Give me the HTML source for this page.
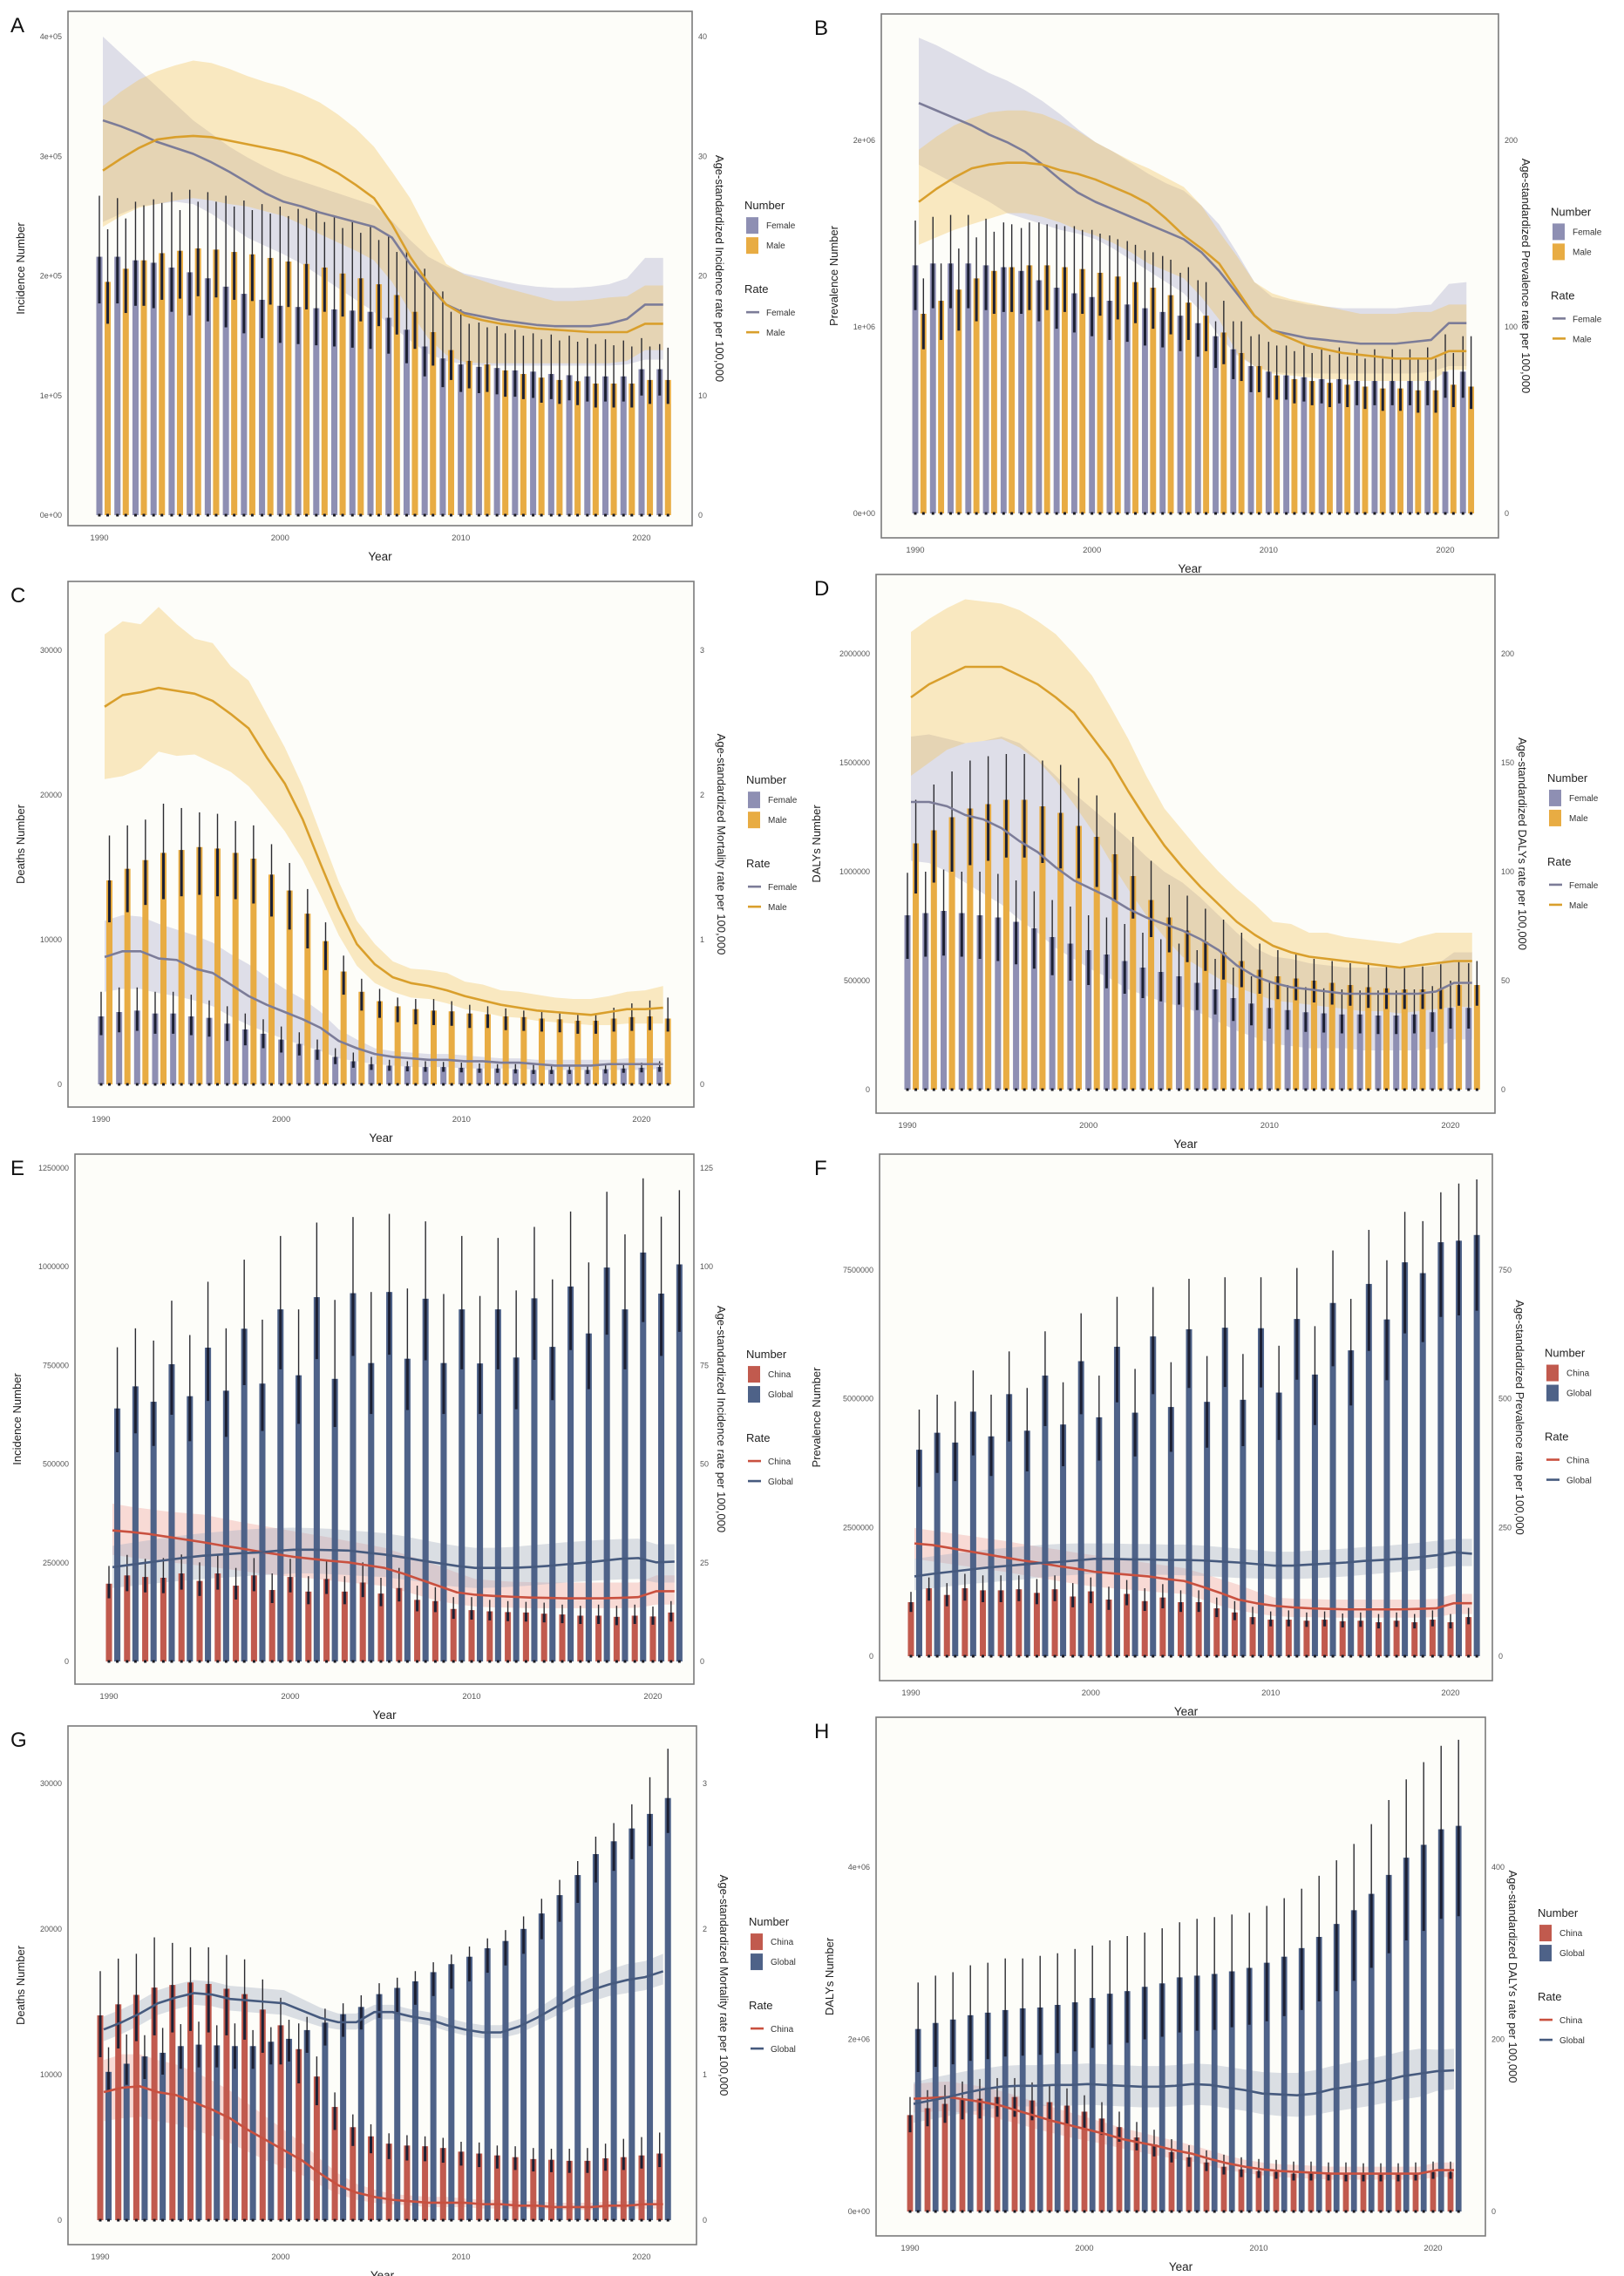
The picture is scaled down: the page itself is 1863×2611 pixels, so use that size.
<!DOCTYPE html>
<html><head><meta charset="utf-8"><title>Burden panels A-H</title>
<style>
html,body{margin:0;padding:0;background:#fff;}
svg{display:block;font-family:"Liberation Sans",Arial,sans-serif;}
</style></head>
<body>
<svg id="fig" width="1863" height="2611" viewBox="0 0 1863 2611" xmlns="http://www.w3.org/2000/svg"></svg>
<script>
const years = [1990,1991,1992,1993,1994,1995,1996,1997,1998,1999,2000,2001,2002,2003,2004,2005,2006,2007,2008,2009,2010,2011,2012,2013,2014,2015,2016,2017,2018,2019,2020,2021];
const xTickYears = [1990,2000,2010,2020];

// Panel A (counts in thousands, rate per 100,000)
const aFemaleNum = [216,216,213,211,207,203,198,191,185,180,175,174,173,172,171,170,165,155,141,131,126,124,123,121,120,118,117,116,116,116,122,122];
const aFemaleHi = [267,265,262,264,270,272,270,267,263,260,258,256,254,250,246,242,233,221,206,187,172,161,158,155,152,151,150,148,147,146,148,143];
const aFemaleLo = [177,177,175,173,170,167,162,157,152,148,144,143,142,141,140,139,135,127,116,107,103,102,101,99,98,97,96,95,95,95,100,100];
const aMaleNum = [195,206,213,219,221,223,222,220,218,215,212,210,207,202,198,193,184,170,153,138,129,126,121,118,115,113,112,110,110,110,113,113];
const aMaleHi = [239,248,259,261,255,262,262,258,255,252,250,248,245,240,236,230,220,206,188,170,160,157,152,150,147,146,145,143,142,141,141,140];
const aMaleLo = [160,169,175,180,181,183,182,180,179,176,174,172,170,166,162,158,151,139,125,113,106,103,99,97,94,93,92,90,90,90,93,93];
const aFemaleRate = [33.0,32.5,31.9,31.2,30.7,30.2,29.5,28.7,27.8,26.9,26.2,25.8,25.3,24.9,24.5,24.1,23.2,21.0,19.2,17.6,16.9,16.6,16.3,16.1,15.9,15.8,15.8,15.8,16.0,16.4,17.6,17.6];
const aFemaleRateHi = [40,38.6,37.2,35.8,34.4,33.0,31.9,30.8,29.9,29.1,28.4,27.9,27.4,26.9,26.4,25.9,24.6,23.0,21.6,20.8,20.2,19.9,19.6,19.3,19.1,19.0,19.0,19.1,19.3,19.8,21.5,21.5];
const aFemaleRateLo = [24.5,25.2,25.8,26.0,26.2,26.0,25.2,24.2,23.2,22.5,21.8,21.0,20.0,19.0,18.0,17.0,15.8,14.6,13.5,12.9,12.6,12.5,12.5,12.5,12.5,12.5,12.5,12.5,12.5,12.6,13.0,13.0];
const aMaleRate = [28.8,29.8,30.7,31.4,31.6,31.7,31.6,31.3,31.0,30.7,30.4,30.0,29.4,28.6,27.6,26.5,24.3,21.6,19.4,17.6,16.7,16.3,16.0,15.8,15.6,15.5,15.4,15.3,15.3,15.3,16.0,16.0];
const aMaleRateHi = [34.2,35.4,36.4,37.1,37.6,38.0,37.8,37.3,36.7,36.2,35.8,35.2,34.5,33.5,32.3,30.8,28.7,26.5,23.6,21.0,20.1,19.6,19.1,18.7,18.3,17.9,17.9,18.0,18.2,18.3,19.2,19.2];
const aMaleRateLo = [24.1,25.0,25.7,26.0,26.3,26.5,26.3,26.0,25.8,25.4,25.0,24.3,23.5,22.8,22.1,21.3,19.5,17.0,14.8,13.4,12.8,12.7,12.7,12.7,12.7,12.7,12.7,12.7,12.7,12.9,13.8,13.8];
const aLeftTicks = [0,100,200,300,400];
const aLeftLabels = ["0e+00","1e+05","2e+05","3e+05","4e+05"];
const aRightTicks = [0,10,20,30,40];

// Panel B (counts in 10,000s)
const bFemaleNum = [133,134,134,134,133,132,130,125,121,118,116,114,112,110,108,106,102,95,88,79,76,74,73,72,72,71,71,71,71,71,76,76];
const bFemaleHi = [157,159,160,160,158,156,153,156,155,154,152,149,146,141,138,129,125,103,103,95,92,90,90,89,89,88,88,88,88,89,96,95];
const bFemaleLo = [109,110,110,110,109,108,107,103,99,97,95,93,92,90,89,87,84,78,72,65,62,61,60,59,59,58,58,58,58,58,62,62];
const bMaleNum = [107,114,120,126,130,132,133,133,132,131,129,127,124,121,117,113,106,97,86,79,74,72,71,70,69,68,67,67,66,66,69,68];
const bMaleHi = [126,134,142,148,151,155,156,155,154,152,150,147,144,140,136,132,124,114,103,96,90,87,86,85,84,83,83,83,83,83,86,95];
const bMaleLo = [88,93,98,103,107,108,109,109,108,107,106,104,102,99,96,93,87,80,71,65,61,59,58,57,57,56,55,55,54,54,57,56];
const bFemaleRate = [220,216,212,208,203,199,194,187,179,172,167,163,159,155,151,147,140,130,118,106,98,96,94,93,92,91,91,91,92,93,102,102];
const bFemaleRateHi = [255,251,246,241,236,232,227,221,214,206,199,194,188,182,177,173,165,155,140,124,116,114,112,111,110,110,110,110,111,112,123,124];
const bFemaleRateLo = [187,182,177,172,167,161,158,155,152,150,147,142,136,130,124,118,108,95,85,79,76,75,75,75,75,75,75,75,75,76,79,79];
const bMaleRate = [167,174,180,185,187,188,188,187,184,182,179,175,171,166,158,149,142,134,120,106,98,94,90,88,86,85,84,83,83,83,87,87];
const bMaleRateHi = [195,202,208,212,215,216,216,214,210,205,199,194,189,185,180,175,165,151,138,124,118,115,113,111,109,107,107,107,108,108,112,112];
const bMaleRateLo = [144,148,152,155,158,161,161,159,156,152,149,145,140,134,130,126,116,104,86,79,75,74,73,72,72,71,71,71,71,71,77,77];
const bLeftTicks = [0,100,200];
const bLeftLabels = ["0e+00","1e+06","2e+06"];
const bRightTicks = [0,100,200];

// Panel C (deaths)
const cFemaleNum = [4700,5000,5100,4900,4900,4700,4600,4200,3800,3500,3100,2800,2400,1900,1600,1400,1300,1250,1200,1200,1150,1100,1100,1050,1000,1000,1000,1000,1050,1100,1150,1200];
const cFemaleHi = [6400,6700,6700,6400,6400,6200,5800,5400,4900,4500,4000,3600,3100,2500,2200,1900,1700,1600,1600,1550,1500,1450,1400,1400,1350,1300,1300,1350,1400,1450,1500,1600];
const cFemaleLo = [3400,3600,3700,3500,3500,3400,3300,3000,2700,2500,2200,2000,1700,1400,1150,1000,940,900,870,870,830,800,800,760,720,720,720,720,760,800,830,870];
const cMaleNum = [14100,14900,15500,16000,16200,16400,16300,16000,15600,14500,13400,11800,9900,7800,6400,5750,5400,5200,5100,5050,4900,4850,4700,4650,4550,4500,4400,4400,4550,4650,4700,4550];
const cMaleHi = [17200,17900,18300,19400,19100,18800,18700,18200,17900,16600,15300,13500,11200,8900,7300,6600,6000,5900,5900,5750,5500,5400,5250,5100,5000,4900,4850,4850,5300,5600,5800,6000];
const cMaleLo = [11200,11900,12400,12800,13000,13100,13000,12800,12500,11600,10700,9400,7900,6200,5100,4600,4300,4150,4100,4050,3900,3900,3750,3700,3650,3600,3500,3500,3650,3700,3750,3650];
const cFemaleRate = [0.88,0.92,0.92,0.87,0.86,0.80,0.77,0.69,0.61,0.55,0.50,0.45,0.39,0.30,0.25,0.21,0.19,0.18,0.17,0.17,0.16,0.16,0.15,0.15,0.14,0.13,0.13,0.13,0.14,0.14,0.14,0.14];
const cFemaleRateHi = [1.13,1.17,1.16,1.11,1.07,1.03,0.98,0.90,0.83,0.74,0.66,0.59,0.50,0.38,0.31,0.25,0.23,0.22,0.21,0.21,0.20,0.19,0.18,0.18,0.17,0.17,0.17,0.17,0.17,0.18,0.18,0.18];
const cFemaleRateLo = [0.64,0.66,0.66,0.63,0.61,0.58,0.54,0.47,0.41,0.36,0.31,0.27,0.23,0.18,0.16,0.14,0.13,0.12,0.12,0.12,0.11,0.11,0.11,0.11,0.10,0.10,0.10,0.10,0.10,0.10,0.10,0.11];
const cMaleRate = [2.61,2.69,2.71,2.74,2.72,2.70,2.65,2.56,2.46,2.26,2.08,1.83,1.52,1.22,0.97,0.83,0.74,0.70,0.68,0.65,0.61,0.58,0.55,0.53,0.51,0.50,0.49,0.48,0.50,0.52,0.52,0.53];
const cMaleRateHi = [3.11,3.20,3.18,3.30,3.18,3.08,3.05,2.89,2.79,2.56,2.33,2.06,1.73,1.40,1.13,0.97,0.85,0.80,0.79,0.77,0.71,0.69,0.65,0.64,0.62,0.60,0.59,0.59,0.61,0.64,0.65,0.68];
const cMaleRateLo = [2.11,2.13,2.18,2.30,2.27,2.28,2.22,2.16,2.06,1.91,1.75,1.55,1.30,1.03,0.82,0.70,0.64,0.60,0.59,0.56,0.52,0.50,0.47,0.46,0.44,0.43,0.42,0.41,0.41,0.42,0.42,0.42];
const cLeftTicks = [0,10000,20000,30000];
const cLeftLabels = ["0","10000","20000","30000"];
const cRightTicks = [0,1,2,3];

// Panel D (counts in thousands)
const dFemaleNum = [800,810,820,810,800,790,770,740,700,670,640,620,590,560,540,520,490,460,420,395,375,365,355,350,345,345,340,340,345,355,375,375];
const dFemaleHi = [995,1000,1010,1000,1000,990,960,910,870,840,800,790,760,720,690,670,640,600,560,520,495,480,470,465,460,455,455,455,460,475,500,580];
const dFemaleLo = [600,610,615,610,600,590,575,555,525,500,480,465,440,420,405,390,365,345,315,295,280,275,265,262,258,258,255,255,258,265,280,280];
const dMaleNum = [1130,1190,1250,1290,1310,1330,1330,1300,1270,1210,1160,1080,980,870,790,730,680,630,590,550,520,510,500,490,480,470,465,460,460,465,480,480];
const dMaleHi = [1330,1400,1460,1510,1530,1540,1540,1510,1490,1430,1350,1270,1160,1050,940,890,830,780,720,670,640,620,600,590,580,575,570,565,565,575,590,590];
const dMaleLo = [900,950,1000,1030,1050,1065,1065,1040,1015,970,930,865,785,700,630,585,545,505,470,440,415,410,400,390,385,375,370,370,370,370,385,385];
const dFemaleRate = [132,132,130,126,124,120,114,109,102,96,92,88,83,79,76,73,69,64,57,52,49,47,46,45,44,44,44,44,44,45,49,49];
const dFemaleRateHi = [162,163,161,159,160,162,159,152,144,136,129,122,115,107,100,95,88,80,72,65,61,60,58,57,56,56,56,56,56,57,63,63];
const dFemaleRateLo = [105,104,100,95,90,85,78,72,65,60,55,51,46,43,40,38,35,31,27,24,21,20,19,19,19,18,18,18,18,19,23,23];
const dMaleRate = [180,186,190,194,194,194,190,186,180,173,162,151,137,124,112,102,93,85,77,71,66,63,61,60,59,58,57,56,57,58,59,59];
const dMaleRateHi = [210,216,221,225,224,223,220,215,209,200,190,176,161,144,129,119,109,100,92,85,77,76,72,72,70,69,68,67,70,72,72,72];
const dMaleRateLo = [144,150,156,159,160,161,157,151,142,131,119,105,92,80,70,61,56,51,47,44,41,40,39,38,37,36,36,35,36,37,38,38];
const dLeftTicks = [0,500,1000,1500,2000];
const dLeftLabels = ["0","500000","1000000","1500000","2000000"];
const dRightTicks = [0,50,100,150,200];

// Panel E (counts in thousands)
const eChinaNum = [197,218,214,212,223,204,223,192,218,181,214,177,209,177,200,172,186,156,153,133,130,127,125,124,121,119,116,116,113,116,114,124];
const eChinaHi = [242,270,260,262,271,251,270,237,262,223,260,216,256,216,251,212,237,192,188,163,163,156,153,151,149,144,141,144,141,144,139,153];
const eChinaLo = [160,178,175,173,182,166,182,157,178,148,175,145,171,145,163,140,152,127,125,108,106,104,102,101,99,97,95,95,92,95,93,101];
const eGlobalNum = [641,697,658,753,672,795,686,843,704,892,725,923,716,933,756,936,767,919,756,892,755,892,770,920,797,950,831,998,892,1036,932,1006];
const eGlobalHi = [796,844,813,914,827,962,844,1018,866,1078,892,1112,916,1126,936,1134,945,1115,931,1078,926,1073,940,1101,968,1140,1011,1190,1082,1224,1127,1194];
const eGlobalLo = [530,578,546,625,558,660,569,700,584,740,602,766,594,774,627,777,637,763,627,740,627,740,639,764,662,789,690,828,740,860,774,835];
const eChinaRate = [33.2,32.8,32.3,31.6,30.9,30.2,29.4,28.7,27.9,27.2,26.5,26.0,25.5,25.1,24.4,23.7,22.3,20.7,19.1,17.5,16.9,16.6,16.4,16.2,16.1,16.0,16.0,16.0,16.1,16.3,17.8,17.8];
const eChinaRateHi = [40.0,39.2,38.6,38.0,37.6,37.2,36.3,35.4,34.6,33.8,33.0,32.2,31.4,30.5,29.7,28.8,27.3,25.8,24.2,22.5,20.9,20.5,20.2,20.1,20.0,20.0,20.0,20.0,20.0,20.0,21.8,21.8];
const eChinaRateLo = [27.0,26.4,25.8,25.2,24.7,24.2,23.6,23.0,22.4,21.9,21.4,21.0,20.5,20.0,19.6,19.1,17.9,16.6,15.3,14.5,13.9,13.7,13.6,13.5,13.5,13.5,13.5,13.5,13.5,13.6,14.4,14.4];
const eGlobalRate = [23.9,24.5,25.1,25.7,26.3,26.8,27.1,27.4,27.6,28.0,28.3,28.3,28.2,28.1,27.6,27.1,26.4,25.6,24.9,24.2,23.7,23.7,23.7,23.9,24.2,24.6,25.0,25.5,26.0,26.2,25.1,25.3];
const eGlobalRateHi = [29.3,30.0,30.7,31.4,32.0,32.5,32.9,33.3,33.6,33.8,33.9,33.8,33.6,33.2,32.9,32.5,31.8,30.9,30.0,29.3,28.8,28.8,29.0,29.4,29.8,30.2,30.5,30.8,31.0,31.1,29.7,29.7];
const eGlobalRateLo = [18.6,19.1,19.6,20.1,20.5,20.9,21.2,21.5,21.8,22.0,22.3,22.3,22.1,21.9,21.6,21.4,20.8,20.2,19.4,18.9,18.6,18.7,18.9,19.2,19.6,20.0,20.3,20.6,20.8,20.9,20.0,20.0];
const eLeftTicks = [0,250,500,750,1000,1250];
const eLeftLabels = ["0","250000","500000","750000","1000000","1250000"];
const eRightTicks = [0,25,50,75,100,125];

// Panel F (counts in 10,000s)
const fChinaNum = [105,132,119,132,128,128,130,123,130,116,126,110,121,107,114,105,105,93,85,76,71,71,69,71,68,69,66,69,66,71,66,76];
const fChinaHi = [125,153,142,160,157,157,157,150,157,142,153,135,148,132,140,128,128,114,107,96,87,89,85,87,83,85,82,85,82,89,82,94];
const fChinaLo = [86,108,97,108,105,105,107,101,107,95,103,90,99,88,93,86,86,76,70,62,58,58,57,58,56,57,54,57,54,58,54,62];
const fGlobalNum = [401,434,415,475,427,509,438,545,450,573,464,601,473,621,484,635,494,638,498,637,512,655,547,686,594,723,654,765,744,804,807,818];
const fGlobalHi = [479,508,495,555,508,592,521,631,532,666,545,698,558,717,571,733,583,736,587,736,603,754,641,788,694,828,769,863,845,901,918,926];
const fGlobalLo = [329,356,340,390,350,417,359,447,369,470,380,493,388,509,397,521,405,523,408,522,420,537,449,563,487,593,536,627,610,659,662,671];
const fChinaRate = [219,216,210,204,198,192,186,181,175,170,164,161,158,155,150,146,135,123,110,103,98,95,93,92,91,91,91,91,92,93,103,103];
const fChinaRateHi = [249,244,239,234,229,224,218,212,207,201,196,191,186,181,176,171,161,150,139,126,114,112,111,110,110,110,110,110,110,111,121,121];
const fChinaRateLo = [189,184,179,174,169,164,158,152,146,140,135,132,129,126,123,121,110,98,89,83,78,76,76,75,75,75,75,75,75,76,82,82];
const fGlobalRate = [155,160,164,168,172,175,178,181,183,186,189,189,188,188,187,187,186,184,182,179,176,176,178,180,182,185,187,189,192,196,202,199];
const fGlobalRateHi = [189,194,199,203,207,210,213,216,218,219,219,219,218,218,217,217,215,212,209,206,203,203,205,207,209,212,214,217,220,224,228,228];
const fGlobalRateLo = [128,132,136,140,143,146,149,153,156,158,160,160,159,158,158,157,156,154,152,151,150,150,151,153,155,158,161,164,167,171,175,175];
const fLeftTicks = [0,250,500,750];
const fLeftLabels = ["0","2500000","5000000","7500000"];
const fRightTicks = [0,250,500,750];

// Panel G (deaths)
const gChinaNum = [14070,14830,15480,15980,16160,16330,16230,15900,15530,14470,13390,11750,9870,7780,6390,5760,5260,5130,5080,4960,4710,4580,4450,4330,4200,4150,4080,4080,4250,4330,4450,4580];
const gChinaHi = [17110,17970,18300,19430,19050,18750,18750,18220,17920,16540,15280,13520,11250,8780,7270,6590,5970,5840,5760,5660,5390,5340,5130,5080,4960,4910,4910,4960,5260,5590,5710,6020];
const gChinaLo = [11200,11800,12300,12700,12900,13000,12900,12700,12400,11500,10700,9400,7900,6200,5100,4600,4200,4100,4050,3950,3750,3650,3550,3450,3350,3300,3250,3250,3400,3450,3550,3650];
const gGlobalNum = [10190,10750,11250,11500,11960,12060,12010,11960,11960,12260,12460,13060,13570,14150,14650,15530,15960,16410,17040,17590,18100,18680,19180,20010,21070,22330,23710,25150,26030,26910,27910,29000];
const gGlobalHi = [11880,12760,12710,13210,13470,13640,13390,13520,13060,13260,13770,13970,14530,14900,15450,16280,16660,17110,17720,18250,18800,19360,19930,20870,22080,23380,24670,26350,27280,28570,30430,32390];
const gGlobalLo = [8800,9300,9700,10000,10400,10500,10500,10400,10400,10700,10900,11500,12000,12600,13100,13900,14300,14800,15400,15900,16400,17000,17500,18300,19300,20500,21800,23200,24000,24800,25700,26600];
const gChinaRate = [0.88,0.91,0.92,0.88,0.86,0.81,0.76,0.70,0.62,0.55,0.48,0.41,0.32,0.24,0.19,0.16,0.14,0.13,0.12,0.12,0.12,0.11,0.11,0.10,0.10,0.09,0.09,0.09,0.10,0.10,0.11,0.11];
const gChinaRateHi = [1.10,1.14,1.14,1.10,1.07,1.02,0.96,0.89,0.80,0.71,0.62,0.53,0.42,0.32,0.25,0.21,0.18,0.17,0.16,0.16,0.15,0.14,0.14,0.13,0.13,0.12,0.12,0.12,0.13,0.13,0.14,0.14];
const gChinaRateLo = [0.68,0.70,0.71,0.68,0.66,0.62,0.58,0.53,0.47,0.41,0.36,0.31,0.24,0.18,0.14,0.12,0.11,0.10,0.09,0.09,0.09,0.08,0.08,0.08,0.08,0.07,0.07,0.07,0.08,0.08,0.08,0.08];
const gGlobalRate = [1.31,1.36,1.42,1.49,1.53,1.56,1.55,1.52,1.51,1.50,1.49,1.44,1.39,1.36,1.36,1.43,1.43,1.40,1.38,1.34,1.31,1.29,1.29,1.33,1.39,1.46,1.53,1.58,1.62,1.65,1.67,1.71];
const gGlobalRateHi = [1.40,1.45,1.51,1.58,1.62,1.65,1.64,1.61,1.60,1.59,1.58,1.52,1.46,1.42,1.42,1.48,1.48,1.45,1.43,1.39,1.36,1.34,1.34,1.38,1.45,1.53,1.61,1.67,1.72,1.76,1.78,1.83];
const gGlobalRateLo = [1.23,1.28,1.34,1.41,1.45,1.48,1.47,1.44,1.43,1.42,1.41,1.37,1.33,1.31,1.31,1.38,1.38,1.36,1.34,1.30,1.27,1.25,1.25,1.28,1.34,1.40,1.46,1.50,1.54,1.56,1.58,1.62];
const gLeftTicks = [0,10000,20000,30000];
const gLeftLabels = ["0","10000","20000","30000"];
const gRightTicks = [0,1,2,3];

// Panel H (counts in 10,000s)
const hChinaNum = [112,120,125,130,131,133,133,129,127,123,116,108,98,86,78,69,63,57,52,49,47,46,44,44,44,43,43,43,43,44,46,46];
const hChinaHi = [133,141,147,151,154,155,155,150,147,143,135,127,116,104,95,84,77,71,66,63,61,60,58,58,57,57,56,56,56,57,58,58];
const hChinaLo = [92,99,103,107,108,110,110,106,105,101,96,89,81,71,64,57,52,47,43,40,39,38,36,36,36,35,35,35,35,36,38,38];
const hGlobalNum = [212,219,223,228,231,234,236,237,240,243,248,253,256,261,265,272,274,276,279,283,289,296,306,319,334,350,369,391,411,426,444,448];
const hGlobalHi = [266,274,278,286,289,294,294,297,300,305,309,315,320,324,329,336,340,342,345,347,355,364,375,390,408,427,450,478,502,522,541,548];
const hGlobalLo = [162,168,171,175,177,180,181,182,184,186,190,194,196,200,203,208,210,211,214,217,221,227,234,244,256,268,283,300,315,326,340,343];
const hChinaRate = [131,132,133,130,127,123,117,111,105,100,95,90,84,80,76,71,67,61,56,52,49,47,46,45,44,44,44,44,44,44,48,48];
const hChinaRateHi = [148,150,151,148,145,140,134,127,121,115,109,103,97,92,87,82,77,71,65,60,57,55,54,53,52,52,52,52,52,52,57,57];
const hChinaRateLo = [115,116,117,114,111,107,102,96,91,86,82,78,73,69,65,61,58,53,48,45,42,40,39,38,37,37,37,37,37,37,40,40];
const hGlobalRate = [125,129,133,138,142,145,146,146,147,147,148,147,146,145,145,146,148,147,144,141,137,136,135,137,142,145,148,152,157,160,163,164];
const hGlobalRateHi = [150,155,159,163,166,169,170,170,171,171,172,171,170,169,169,170,172,171,168,165,162,161,161,164,169,173,177,181,186,189,188,189];
const hGlobalRateLo = [103,107,111,115,118,121,122,122,123,123,124,123,122,121,121,122,124,123,120,117,113,111,110,112,116,119,122,126,130,133,140,142];
const hLeftTicks = [0,200,400];
const hLeftLabels = ["0e+00","2e+06","4e+06"];
const hRightTicks = [0,200,400];

const NS = "http://www.w3.org/2000/svg";
const svg = document.getElementById("fig");
function mk(tag, attrs, parent){
  const e = document.createElementNS(NS, tag);
  for (const k in attrs) e.setAttribute(k, attrs[k]);
  (parent||svg).appendChild(e);
  return e;
}

const SEX = {c1:"#8e8fb3", c2:"#e8ac43", l1:"#7c7c98", l2:"#d99f2c", r1:"rgba(170,170,205,0.38)", r2:"rgba(242,190,75,0.33)", n1:"Female", n2:"Male"};
const REG = {c1:"#c15a4e", c2:"#4e6288", l1:"#c9503f", l2:"#465a7e", r1:"rgba(240,150,140,0.33)", r2:"rgba(170,178,198,0.42)", n1:"China", n2:"Global"};

function drawPanel(p){
  const g = mk("g", {});
  
  
  const [fx0, fy0, fx1, fy1] = p.frame;
  const bg = mk("rect", {x:fx0, y:fy0, width:fx1-fx0, height:fy1-fy0, fill:"#fdfdf9", stroke:"none"}, g);
  
  
  const step = (p.x2020 - p.x1990) / 30;
  const xs = i => p.x1990 + i * step;
  const yR = v => p.y0 - v * p.ppu;            // rate axis
  const yN = v => yR(v * p.unit / 10000);      // count axis
  const col = p.scheme;

  // ribbons
  function ribbon(hi, lo, fill, nm){
    let pts = [];
    for (let i=0;i<hi.length;i++) pts.push(xs(i)+4+","+yR(hi[i]));
    for (let i=lo.length-1;i>=0;i--) pts.push(xs(i)+4+","+yR(lo[i]));
    const r = mk("polygon", {points: pts.join(" "), fill: fill, stroke:"none"}, g);
    
    
  }
  ribbon(p.r1hi, p.r1lo, col.r1, 'ribbon-' + col.n1.toLowerCase());
  ribbon(p.r2hi, p.r2lo, col.r2, 'ribbon-' + col.n2.toLowerCase());

  // bars
  const bw = step * 0.34;
  function bars(vals, his, los, off, fill, nm){
    for (let i=0;i<vals.length;i++){
      const cx = xs(i) + off;
      const top = yN(vals[i]);
      const b = mk("rect", {x: cx-bw/2, y: top, width: bw, height: p.y0-top, fill: fill}, g);
      
      
      const e1 = mk("line", {x1:cx, x2:cx, y1:yN(his[i]), y2:top, stroke:"#2b2b30", "stroke-width":1.4}, g);
      
      
      const e2 = mk("line", {x1:cx, x2:cx, y1:top, y2:yN(los[i]), stroke:"#1c2033", "stroke-width":3}, g);
      
      
      const d = mk("rect", {x:cx-1.5, y:p.y0-1.5, width:3, height:3, fill:"#1a1a22"}, g);
      
      
    }
  }
  bars(p.b1, p.b1hi, p.b1lo, 0, col.c1, col.n1.toLowerCase());
  bars(p.b2, p.b2hi, p.b2lo, step*0.46, col.c2, col.n2.toLowerCase());

  // lines
  function line(vals, stroke, nm){
    const pts = vals.map((v,i)=> (xs(i)+4)+","+yR(v)).join(" ");
    const l = mk("polyline", {points: pts, fill:"none", stroke: stroke, "stroke-width":2.6, "stroke-linejoin":"round"}, g);
    
    
  }
  line(p.r1, col.l1, 'rate-line-' + col.n1.toLowerCase());
  line(p.r2, col.l2, 'rate-line-' + col.n2.toLowerCase());

  // frame
  const fr = mk("rect", {x:fx0, y:fy0, width:fx1-fx0, height:fy1-fy0, fill:"none", stroke:"#7b7b7b", "stroke-width":1.6}, g);
  
  

  // left ticks
  p.leftTicks.forEach((v,k)=>{
    const t = mk("text", {x: fx0-7, y: yN(v)+3, "text-anchor":"end", "font-size":9, fill:"#555"}, g);
    t.textContent = p.leftLabels[k];
    
    
  });
  p.rightTicks.forEach(v=>{
    const t = mk("text", {x: fx1+7, y: yR(v)+3, "text-anchor":"start", "font-size":9, fill:"#555"}, g);
    t.textContent = String(v);
    
    
  });
  xTickYears.forEach(yr=>{
    const t = mk("text", {x: xs(yr-1990), y: fy1+17, "text-anchor":"middle", "font-size":9.5, fill:"#555"}, g);
    t.textContent = String(yr);
    
    
  });
  const xt = mk("text", {x:(fx0+fx1)/2, y: fy1+40, "text-anchor":"middle", "font-size":13.5, fill:"#222"}, g);
  xt.textContent = "Year";
  
  
  const ymid = (fy0+fy1)/2;
  const lt = mk("text", {x:0, y:0, "text-anchor":"middle", "font-size":13, fill:"#222", transform:`translate(${p.leftTitleX},${ymid}) rotate(-90)`}, g);
  lt.textContent = p.leftTitle;
  
  
  const rt = mk("text", {x:0, y:0, "text-anchor":"middle", "font-size":13, fill:"#222", transform:`translate(${fx1+27},${ymid}) rotate(90)`}, g);
  rt.textContent = p.rightTitle;
  
  
  const pl = mk("text", {x:p.labelX, y:fy0+24, "font-size":24, fill:"#111"}, g);
  pl.textContent = p.letter;
  
  

  // legend
  const lx = fx1 + 60, ly = fy0 + (fy1-fy0)*0.385;
  const lg = mk("g", {}, g);
  
  
  const t1 = mk("text", {x:lx, y:ly, "font-size":13, fill:"#222"}, lg);
  t1.textContent = "Number";
  
  
  [[col.c1,col.n1],[col.c2,col.n2]].forEach((it,k)=>{
    const sq = mk("rect", {x:lx+2, y:ly+9+k*23, width:14, height:19, fill:it[0]}, lg);
    
    
    const tx = mk("text", {x:lx+25, y:ly+22+k*23, "font-size":10, fill:"#333"}, lg);
    tx.textContent = it[1];
    
    
  });
  const t2 = mk("text", {x:lx, y:ly+96, "font-size":13, fill:"#222"}, lg);
  t2.textContent = "Rate";
  
  
  [[col.l1,col.n1],[col.l2,col.n2]].forEach((it,k)=>{
    const ln = mk("line", {x1:lx+2, x2:lx+17, y1:ly+118+k*23, y2:ly+118+k*23, stroke:it[0], "stroke-width":2.6}, lg);
    
    
    const tx = mk("text", {x:lx+25, y:ly+122+k*23, "font-size":10, fill:"#333"}, lg);
    tx.textContent = it[1];
    
    
  });
}

drawPanel({letter:"A", frame:[78,13,794,603], x1990:114, x2020:736, y0:591, ppu:13.725, unit:1000, labelX:12, leftTitleX:28, scheme:SEX,
  b1:aFemaleNum,b1hi:aFemaleHi,b1lo:aFemaleLo,b2:aMaleNum,b2hi:aMaleHi,b2lo:aMaleLo,
  r1:aFemaleRate,r1hi:aFemaleRateHi,r1lo:aFemaleRateLo,r2:aMaleRate,r2hi:aMaleRateHi,r2lo:aMaleRateLo,
  leftTicks:aLeftTicks,leftLabels:aLeftLabels,rightTicks:aRightTicks,
  leftTitle:"Incidence Number", rightTitle:"Age-standardized Incidence rate per 100,000"});
drawPanel({letter:"B", frame:[1011,16,1719,617], x1990:1050, x2020:1658, y0:589, ppu:2.14, unit:10000, labelX:934, leftTitleX:961, scheme:SEX,
  b1:bFemaleNum,b1hi:bFemaleHi,b1lo:bFemaleLo,b2:bMaleNum,b2hi:bMaleHi,b2lo:bMaleLo,
  r1:bFemaleRate,r1hi:bFemaleRateHi,r1lo:bFemaleRateLo,r2:bMaleRate,r2hi:bMaleRateHi,r2lo:bMaleRateLo,
  leftTicks:bLeftTicks,leftLabels:bLeftLabels,rightTicks:bRightTicks,
  leftTitle:"Prevalence Number", rightTitle:"Age-standardized Prevalence rate per 100,000"});
drawPanel({letter:"C", frame:[78,667,796,1270], x1990:116, x2020:736, y0:1244, ppu:166, unit:1, labelX:12, leftTitleX:28, scheme:SEX,
  b1:cFemaleNum,b1hi:cFemaleHi,b1lo:cFemaleLo,b2:cMaleNum,b2hi:cMaleHi,b2lo:cMaleLo,
  r1:cFemaleRate,r1hi:cFemaleRateHi,r1lo:cFemaleRateLo,r2:cMaleRate,r2hi:cMaleRateHi,r2lo:cMaleRateLo,
  leftTicks:cLeftTicks,leftLabels:cLeftLabels,rightTicks:cRightTicks,
  leftTitle:"Deaths Number", rightTitle:"Age-standardized Mortality rate per 100,000"});
drawPanel({letter:"D", frame:[1005,659,1715,1277], x1990:1041, x2020:1664, y0:1250, ppu:2.5, unit:1000, labelX:934, leftTitleX:941, scheme:SEX,
  b1:dFemaleNum,b1hi:dFemaleHi,b1lo:dFemaleLo,b2:dMaleNum,b2hi:dMaleHi,b2lo:dMaleLo,
  r1:dFemaleRate,r1hi:dFemaleRateHi,r1lo:dFemaleRateLo,r2:dMaleRate,r2hi:dMaleRateHi,r2lo:dMaleRateLo,
  leftTicks:dLeftTicks,leftLabels:dLeftLabels,rightTicks:dRightTicks,
  leftTitle:"DALYs Number", rightTitle:"Age-standardized DALYs rate per 100,000"});
drawPanel({letter:"E", frame:[86,1324,796,1932], x1990:125, x2020:749, y0:1906, ppu:4.528, unit:1000, labelX:12, leftTitleX:24, scheme:REG,
  b1:eChinaNum,b1hi:eChinaHi,b1lo:eChinaLo,b2:eGlobalNum,b2hi:eGlobalHi,b2lo:eGlobalLo,
  r1:eChinaRate,r1hi:eChinaRateHi,r1lo:eChinaRateLo,r2:eGlobalRate,r2hi:eGlobalRateHi,r2lo:eGlobalRateLo,
  leftTicks:eLeftTicks,leftLabels:eLeftLabels,rightTicks:eRightTicks,
  leftTitle:"Incidence Number", rightTitle:"Age-standardized Incidence rate per 100,000"});
drawPanel({letter:"F", frame:[1009,1324,1712,1928], x1990:1045, x2020:1664, y0:1900, ppu:0.5907, unit:10000, labelX:934, leftTitleX:941, scheme:REG,
  b1:fChinaNum,b1hi:fChinaHi,b1lo:fChinaLo,b2:fGlobalNum,b2hi:fGlobalHi,b2lo:fGlobalLo,
  r1:fChinaRate,r1hi:fChinaRateHi,r1lo:fChinaRateLo,r2:fGlobalRate,r2hi:fGlobalRateHi,r2lo:fGlobalRateLo,
  leftTicks:fLeftTicks,leftLabels:fLeftLabels,rightTicks:fRightTicks,
  leftTitle:"Prevalence Number", rightTitle:"Age-standardized Prevalence rate per 100,000"});
drawPanel({letter:"G", frame:[78,1980,799,2575], x1990:115, x2020:736, y0:2547, ppu:167, unit:1, labelX:12, leftTitleX:28, scheme:REG,
  b1:gChinaNum,b1hi:gChinaHi,b1lo:gChinaLo,b2:gGlobalNum,b2hi:gGlobalHi,b2lo:gGlobalLo,
  r1:gChinaRate,r1hi:gChinaRateHi,r1lo:gChinaRateLo,r2:gGlobalRate,r2hi:gGlobalRateHi,r2lo:gGlobalRateLo,
  leftTicks:gLeftTicks,leftLabels:gLeftLabels,rightTicks:gRightTicks,
  leftTitle:"Deaths Number", rightTitle:"Age-standardized Mortality rate per 100,000"});
drawPanel({letter:"H", frame:[1005,1970,1704,2565], x1990:1044, x2020:1644, y0:2537, ppu:0.9875, unit:10000, labelX:934, leftTitleX:956, scheme:REG,
  b1:hChinaNum,b1hi:hChinaHi,b1lo:hChinaLo,b2:hGlobalNum,b2hi:hGlobalHi,b2lo:hGlobalLo,
  r1:hChinaRate,r1hi:hChinaRateHi,r1lo:hChinaRateLo,r2:hGlobalRate,r2hi:hGlobalRateHi,r2lo:hGlobalRateLo,
  leftTicks:hLeftTicks,leftLabels:hLeftLabels,rightTicks:hRightTicks,
  leftTitle:"DALYs Number", rightTitle:"Age-standardized DALYs rate per 100,000"});
</script>
</body></html>
